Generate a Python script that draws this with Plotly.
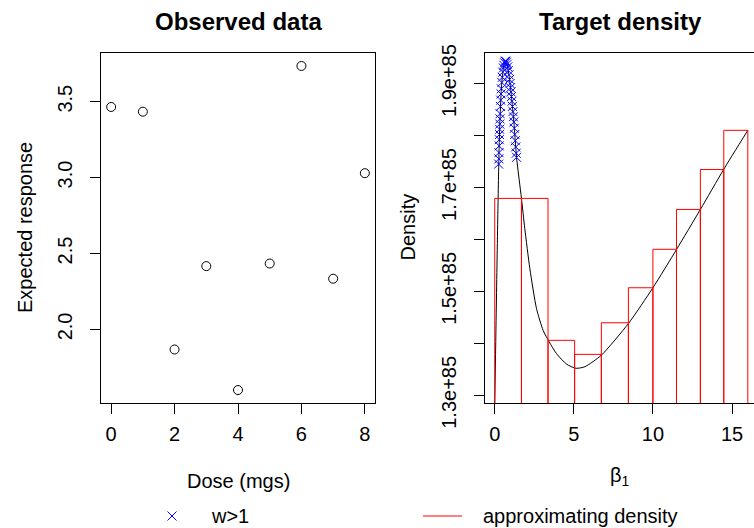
import plotly.graph_objects as go

# ---- observed data (left panel) ----
dose = [0, 1, 2, 3, 4, 5, 6, 7, 8]
response = [3.465, 3.434, 1.868, 2.417, 1.601, 2.434, 3.735, 2.334, 3.029]
dose_ticks = [0, 2, 4, 6, 8]
resp_ticks = [2.0, 2.5, 3.0, 3.5]
resp_ticktext = ["2.0", "2.5", "3.0", "3.5"]

# ---- target density (right panel) ----
beta_curve = [0.00, 0.10, 0.20, 0.27, 0.32, 0.42, 0.51, 0.62, 0.70, 0.82, 1.00,
              1.21, 1.38, 1.69, 1.90, 2.22, 2.64, 3.06, 3.44, 3.91, 4.54, 5.13,
              5.70, 6.75, 8.46, 10.0, 11.5, 13.0, 14.47, 16.0]
dens_curve = [1.280e85, 1.470e85, 1.655e85, 1.767e85, 1.822e85, 1.890e85, 1.922e85,
              1.940e85, 1.943e85, 1.932e85, 1.892e85, 1.826e85, 1.758e85, 1.679e85,
              1.621e85, 1.544e85, 1.467e85, 1.425e85, 1.403e85, 1.380e85, 1.360e85,
              1.352e85, 1.355e85, 1.3775e85, 1.4385e85, 1.507e85, 1.581e85,
              1.6577e85, 1.7346e85, 1.810e85]

# draws with importance weight w > 1, shown on the target density
beta_w = [0.25, 0.26, 0.27, 0.28, 0.29, 0.30, 0.31, 0.32, 0.33, 0.34, 0.36, 0.38,
          0.40, 0.42, 0.45, 0.48, 0.51, 0.55, 0.58, 0.62, 0.66, 0.70, 0.74, 0.78,
          0.82, 0.86, 0.90, 0.94, 0.97, 1.00, 1.03, 1.06, 1.09, 1.12, 1.15, 1.18,
          1.21, 1.24, 1.27, 1.30, 1.33, 1.36, 1.38]
dens_w = [1.745e85, 1.755e85, 1.767e85, 1.780e85, 1.792e85, 1.802e85, 1.812e85,
          1.822e85, 1.832e85, 1.842e85, 1.856e85, 1.868e85, 1.880e85, 1.890e85,
          1.902e85, 1.912e85, 1.922e85, 1.930e85, 1.935e85, 1.940e85, 1.943e85,
          1.943e85, 1.941e85, 1.937e85, 1.932e85, 1.925e85, 1.917e85, 1.908e85,
          1.900e85, 1.892e85, 1.884e85, 1.875e85, 1.866e85, 1.856e85, 1.846e85,
          1.836e85, 1.826e85, 1.814e85, 1.802e85, 1.790e85, 1.778e85, 1.766e85,
          1.758e85]

# piecewise-constant approximating density
bin_edges = [0.0, 1.69, 3.37, 5.05, 6.74, 8.45, 10.0, 11.49, 13.0, 14.48, 16.0]
bin_heights = [1.679e85, 1.679e85, 1.4058e85, 1.3788e85, 1.4396e85, 1.507e85,
               1.581e85, 1.6577e85, 1.7346e85, 1.810e85]

beta_ticks = [0, 5, 10, 15]
dens_ticks = [1.3e85, 1.5e85, 1.7e85, 1.9e85]
dens_ticktext = ["1.3e+85", "1.5e+85", "1.7e+85", "1.9e+85"]

legend_labels = ["w>1", "approximating density"]

W, H = 754, 528
FONT = "Liberation Sans, Arial, Helvetica, sans-serif"
BLUE, RED = "#0000FF", "#FF0000"
y2_range = [1.2852e85, 1.9588e85]

# outline of the histogram bars (bottoms fall below the visible range)
hist_base = y2_range[0] - 0.05e85
hx, hy = [], []
for i, h in enumerate(bin_heights):
    l, r = bin_edges[i], bin_edges[i + 1]
    hx += [l, l, r, r, None]
    hy += [hist_base, h, h, hist_base, None]

fig = go.Figure()

fig.add_trace(go.Scatter(
    x=dose, y=response, mode="markers", xaxis="x", yaxis="y", showlegend=False,
    marker=dict(symbol="circle-open", size=9, color="black", line=dict(width=1, color="black")),
))

fig.add_trace(go.Scatter(
    x=beta_curve, y=dens_curve, mode="lines", xaxis="x2", yaxis="y2", showlegend=False,
    line=dict(color="black", width=1, shape="spline", smoothing=0.6),
))

fig.add_trace(go.Scatter(
    x=beta_w, y=dens_w, mode="markers", xaxis="x2", yaxis="y2", showlegend=False,
    name=legend_labels[0],
    marker=dict(symbol="x-thin-open", size=9, color=BLUE, line=dict(width=1, color=BLUE)),
))

fig.add_trace(go.Scatter(
    x=hx, y=hy, mode="lines", xaxis="x2", yaxis="y2", showlegend=False,
    name=legend_labels[1],
    line=dict(color=RED, width=1),
))

def px_x(p):
    return p / W

def px_y(p):
    return 1 - p / H

y_dom = [px_y(403), px_y(53)]

axis_common = dict(
    showgrid=False, zeroline=False, showline=True, linecolor="black", linewidth=1,
    ticks="outside", ticklen=10, tickwidth=1, tickcolor="black",
    tickfont=dict(family=FONT, size=20, color="black"),
)

fig.update_layout(
    width=W, height=H,
    margin=dict(l=0, r=0, t=0, b=0, autoexpand=False),
    paper_bgcolor="white", plot_bgcolor="white",
    font=dict(family=FONT, size=20, color="black"),
    showlegend=False,
    xaxis=dict(domain=[px_x(101), px_x(375)], range=[-0.32, 8.32], anchor="y",
               tickvals=dose_ticks, mirror=True, ticklabelstandoff=3, **axis_common),
    yaxis=dict(domain=y_dom, range=[1.5156, 3.8204], anchor="x",
               tickvals=resp_ticks, ticktext=resp_ticktext, tickangle=-90,
               mirror=True, ticklabelstandoff=10, **axis_common),
    xaxis2=dict(domain=[px_x(484.6), 1.0], range=[-0.64, 16.39], anchor="y2",
                tickvals=beta_ticks, mirror=True, ticklabelstandoff=3, **axis_common),
    yaxis2=dict(domain=y_dom, range=y2_range, anchor="x2",
                tickvals=dens_ticks, ticktext=dens_ticktext, tickangle=-90,
                minor=dict(tickmode="linear", tick0=1.3e85, dtick=0.1e85, ticks="outside",
                           ticklen=10, tickwidth=1, tickcolor="black", showgrid=False),
                mirror=False, ticklabelstandoff=10, **axis_common),
)

annos = [
    dict(text="<b>Observed data</b>", x=238, y=21, size=24, angle=0, xa="center"),
    dict(text="<b>Target density</b>", x=620, y=21, size=24, angle=0, xa="center"),
    dict(text="Expected response", x=25, y=228, size=20, angle=-90, xa="center"),
    dict(text="Density", x=407.5, y=227, size=20, angle=-90, xa="center"),
    dict(text="Dose (mgs)", x=238, y=481, size=20, angle=0, xa="center"),
    dict(text="β<sub>1</sub>", x=620, y=476, size=20, angle=0, xa="center"),
    dict(text=legend_labels[0], x=209, y=516, size=20, angle=0, xa="left"),
    dict(text=legend_labels[1], x=481, y=516, size=20, angle=0, xa="left"),
]
for a in annos:
    fig.add_annotation(text=a["text"], x=px_x(a["x"]), y=px_y(a["y"]), xref="paper", yref="paper",
                       xanchor=a["xa"], yanchor="middle", showarrow=False,
                       textangle=a["angle"], font=dict(family=FONT, size=a["size"], color="black"))

# legend keys: a blue cross and a red line segment
k = 4.5
fig.add_shape(type="line", xref="paper", yref="paper",
              x0=px_x(172 - k), y0=px_y(516 - k), x1=px_x(172 + k), y1=px_y(516 + k),
              line=dict(color=BLUE, width=1))
fig.add_shape(type="line", xref="paper", yref="paper",
              x0=px_x(172 - k), y0=px_y(516 + k), x1=px_x(172 + k), y1=px_y(516 - k),
              line=dict(color=BLUE, width=1))
fig.add_shape(type="line", xref="paper", yref="paper",
              x0=px_x(423), y0=px_y(516), x1=px_x(462), y1=px_y(516),
              line=dict(color=RED, width=1))

fig.write_html("out.html")
